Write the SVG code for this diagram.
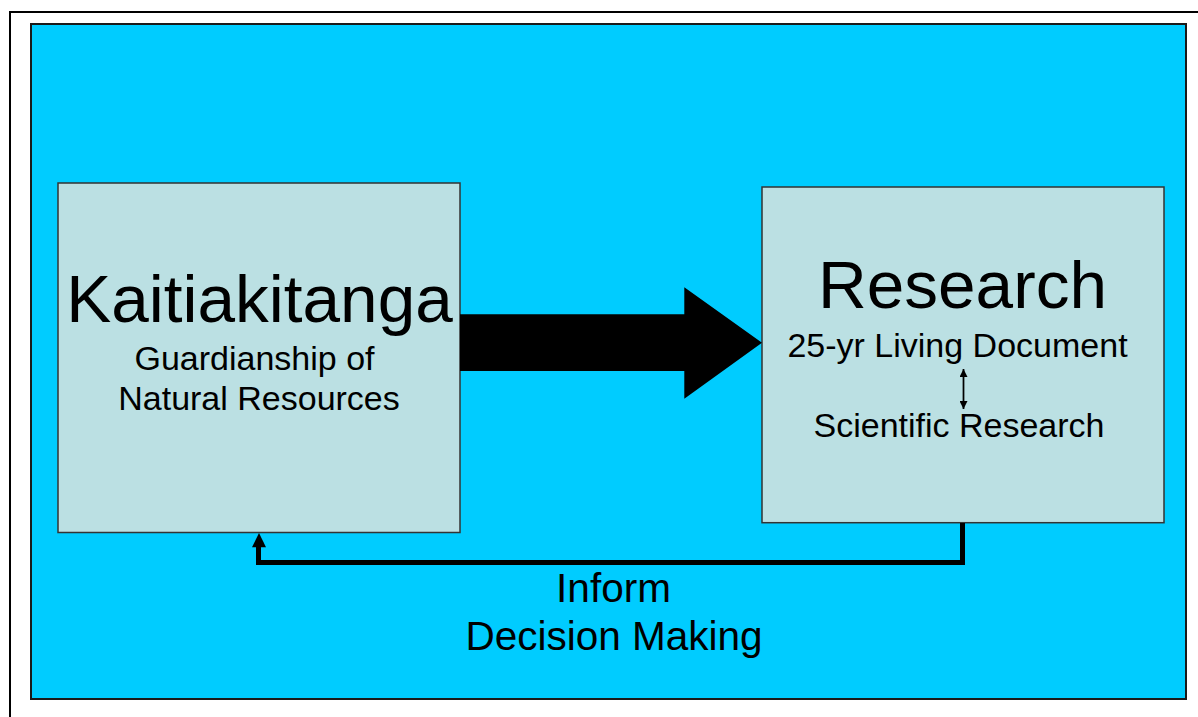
<svg xmlns="http://www.w3.org/2000/svg" width="1198" height="717" viewBox="0 0 1198 717">
  <style>
    .frame { fill: #ffffff; stroke: #000000; stroke-width: 2; }
    .panel { fill: #00ccff; stroke: #1a1a1a; stroke-width: 2; }
    .box { fill: #bbe0e3; stroke: #333333; stroke-width: 1.5; }
    .txt { font-family: "Liberation Sans", Arial, sans-serif; fill: #000000; text-anchor: middle; }
    .big { font-size: 67.5px; }
    .mid { font-size: 34px; }
    .lbl { font-size: 40.5px; }
    .link { fill: none; stroke: #000000; stroke-width: 5; }
    .thin { fill: none; stroke: #000000; stroke-width: 1.75; }
  </style>
  <defs>
    <marker id="tip" viewBox="0 0 10 10" refX="10" refY="5" markerWidth="9" markerHeight="8" markerUnits="userSpaceOnUse" orient="auto-start-reverse">
      <path d="M0,0 L10,5 L0,10 Z" fill="#000000"/>
    </marker>
  </defs>

  <!-- outer page frame and background panel -->
  <rect class="frame" x="10" y="12" width="1200" height="720"/>
  <rect class="panel" x="31" y="24" width="1155" height="675"/>

  <g id="kaitiakitanga">
    <rect class="box" x="58" y="183" width="402" height="349.5"/>
    <text class="txt big" x="259.5" y="322">Kaitiakitanga</text>
    <text class="txt mid" x="254.5" y="370">Guardianship of</text>
    <text class="txt mid" x="259" y="410">Natural Resources</text>
  </g>

  <g id="research">
    <rect class="box" x="762" y="187" width="402" height="335.7"/>
    <text class="txt big" x="962.5" y="308">Research</text>
    <text class="txt mid" x="957.5" y="357">25-yr Living Document</text>
    <text class="txt mid" x="959" y="437">Scientific Research</text>
    <line class="thin" x1="963.5" y1="369" x2="963.5" y2="409" marker-start="url(#tip)" marker-end="url(#tip)"/>
  </g>

  <g id="connectors">
    <!-- block arrow from Kaitiakitanga to Research -->
    <polygon points="460,314.3 684.3,314.3 684.3,287.3 762,342.7 684.3,398.7 684.3,371 460,371" fill="#000000"/>
    <!-- feedback path back to Kaitiakitanga -->
    <path class="link" d="M962.5,523 V562.5 H258.5 V546"/>
    <polygon points="252,547.3 266,547.3 259,533" fill="#000000"/>
    <text class="txt lbl" x="613.5" y="602">Inform</text>
    <text class="txt lbl" x="614" y="650">Decision Making</text>
  </g>
</svg>
